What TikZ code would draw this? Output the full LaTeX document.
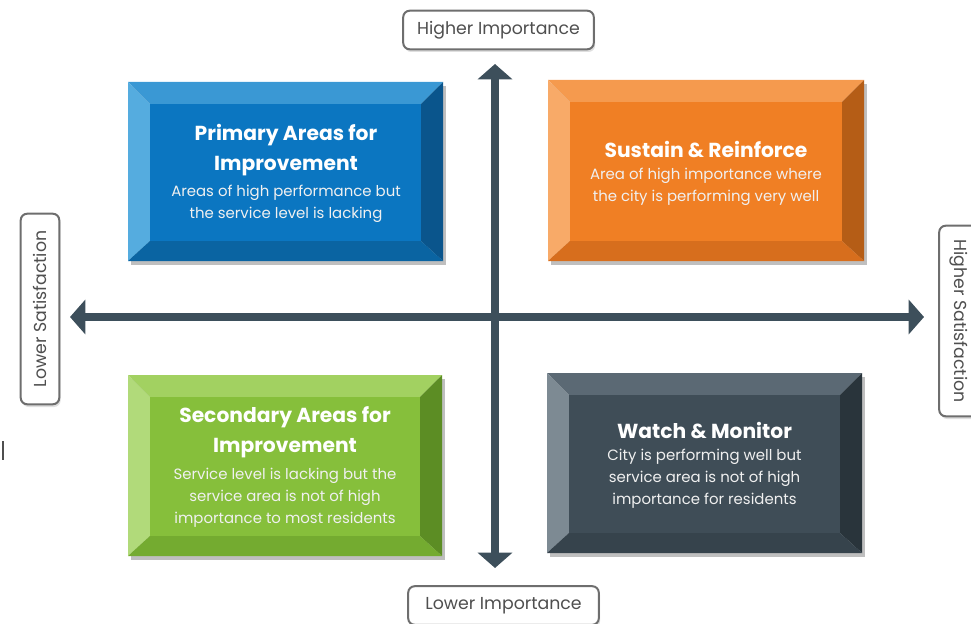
\documentclass[tikz,border=0pt]{standalone}
\usepackage{fontspec}
\setmainfont{Poppins}
\usetikzlibrary{arrows.meta,shadows}

\definecolor{axiscol}{HTML}{3D4F5B}
\definecolor{labelcol}{HTML}{4F4F4F}
\definecolor{framecol}{HTML}{6E6E6E}
% blue
\definecolor{blueface}{HTML}{0B76C1}
\definecolor{bluetop}{HTML}{3A98D4}
\definecolor{blueleft}{HTML}{55ACDF}
\definecolor{blueright}{HTML}{0A558C}
\definecolor{bluebottom}{HTML}{0A64A2}
% orange
\definecolor{orangeface}{HTML}{F07F24}
\definecolor{orangetop}{HTML}{F59A4E}
\definecolor{orangeleft}{HTML}{F8AA68}
\definecolor{orangeright}{HTML}{B55D16}
\definecolor{orangebottom}{HTML}{D76E1D}
% green
\definecolor{greenface}{HTML}{86BF3B}
\definecolor{greentop}{HTML}{A2D161}
\definecolor{greenleft}{HTML}{B1DA7A}
\definecolor{greenright}{HTML}{5C8D24}
\definecolor{greenbottom}{HTML}{74AB30}
% slate
\definecolor{slateface}{HTML}{3F4D57}
\definecolor{slatetop}{HTML}{5B6974}
\definecolor{slateleft}{HTML}{7D8A93}
\definecolor{slateright}{HTML}{29343B}
\definecolor{slatebottom}{HTML}{36434C}

% bevelled box: x1, y1, x2, y2, colour prefix
\newcommand{\bevelbox}[5]{%
	\fill[black, opacity=0.25] (#1+3,#2+4) rectangle (#3+3,#4+4) ;
	\fill[#5top] (#1,#2) -- (#3,#2) -- (#3-22,#2+22) -- (#1+22,#2+22) -- cycle ;
	\fill[#5left] (#1,#2) -- (#1+22,#2+22) -- (#1+22,#4-20) -- (#1,#4) -- cycle ;
	\fill[#5right] (#3,#2) -- (#3,#4) -- (#3-22,#4-20) -- (#3-22,#2+22) -- cycle ;
	\fill[#5bottom] (#1,#4) -- (#1+22,#4-20) -- (#3-22,#4-20) -- (#3,#4) -- cycle ;
	\fill[#5face] (#1+22,#2+22) rectangle (#3-22,#4-20) ;
}

\tikzset{every picture/.style={line width=0.75pt}}
\tikzset{
	axislabel/.style={draw=framecol, line width=1.5pt, rounded corners=5pt, fill=white,
		text=labelcol, font=\fontsize{13}{15}\selectfont, minimum width=143pt, minimum height=29pt,
		drop shadow={opacity=0.25, shadow xshift=1pt, shadow yshift=-2pt}},
	quadtitle/.style={text=white, font=\fontsize{15.2}{22.5}\selectfont\bfseries, align=center},
	quadtext/.style={text=white!94!black, font=\fontsize{11.2}{16.4}\selectfont, align=center},
	axisline/.style={draw=axiscol, line width=6pt, {Triangle[width=25.5pt,length=11.5pt]}-{Triangle[width=25.5pt,length=11.5pt]}}
}

\begin{document}
\begin{tikzpicture}[x=0.75pt,y=0.75pt,yscale=-1,xscale=1]
	\useasboundingbox (0,0) rectangle (971,624);

	%Shape: Bevel boxes
	\bevelbox{128}{82}{443}{261}{blue}
	\bevelbox{548}{80}{864}{261}{orange}
	\bevelbox{128}{375}{442}{556}{green}
	\bevelbox{547}{373}{862}{553}{slate}

	% Axis ends
	\coordinate (west) at (70,317) ;
	\coordinate (east) at (924,317) ;
	\coordinate (north) at (495,64) ;
	\coordinate (south) at (495,568) ;
	% Axes
	\draw [axisline] (west) -- (east) ;
	\draw [axisline] (north) -- (south) ;

	% Text Node
	\node [quadtitle] (primtitle) at (286,150) {Primary Areas for\\Improvement} ;
	% Text Node
	\node [quadtext] (primtext) at (286,203.5) {Areas of high performance but\\the service level is lacking} ;
	% Text Node
	\node [quadtitle] (sustitle) at (706,149) {Sustain \& Reinforce} ;
	% Text Node
	\node [quadtext] (sustext) at (706,187) {Area of high importance where\\the city is performing very well} ;
	% Text Node
	\node [quadtitle] (sectitle) at (285,432) {Secondary Areas for\\Improvement} ;
	% Text Node
	\node [quadtext] (sectext) at (285,497.5) {Service level is lacking but the\\service area is not of high\\importance to most residents} ;
	% Text Node
	\node [quadtitle] (watchtitle) at (704.5,430) {Watch \& Monitor} ;
	% Text Node
	\node [quadtext] (watchtext) at (704.5,478.5) {City is performing well but\\service area is not of high\\importance for residents} ;

	% Text Node
	\node [axislabel] (hiimp) at (498.5,30) {Higher Importance} ;
	% Text Node
	\node [axislabel] (loimp) at (503.5,605.5) {Lower Importance} ;
	% Text Node
	\node [axislabel, rotate=90] (losat) at (40,309) {Lower Satisfaction} ;
	% Text Node
	\node [axislabel, rotate=-90] (hisat) at (958.5,321) {Higher Satisfaction} ;

	%Straight Lines [stray mark]
	\draw [labelcol, line width=1.5pt] (3,441) -- (3,460) ;

\end{tikzpicture}
\end{document}
